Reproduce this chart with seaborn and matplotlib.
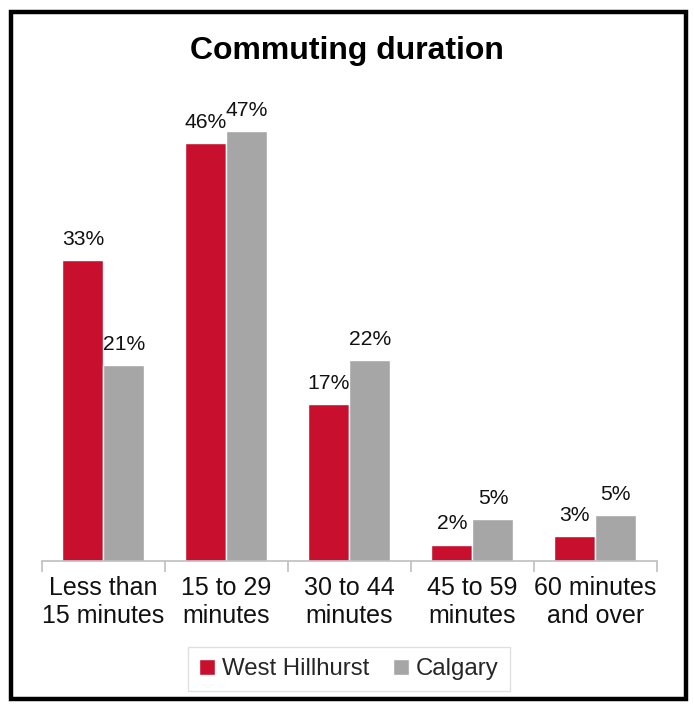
import matplotlib
matplotlib.use("Agg")
import matplotlib.pyplot as plt
import seaborn as sns
import pandas as pd
from matplotlib.patches import Rectangle

categories = ["Less than\n15 minutes", "15 to 29\nminutes", "30 to 44\nminutes",
              "45 to 59\nminutes", "60 minutes\nand over"]
west_hillhurst = [32.9, 45.7, 17.2, 1.8, 2.7]
calgary = [21.4, 47.1, 22.0, 4.6, 5.0]
series_names = ["West Hillhurst", "Calgary"]
colors = ["#C8102E", "#A6A6A6"]

df = pd.DataFrame({
    "category": categories * 2,
    "value": west_hillhurst + calgary,
    "series": [series_names[0]] * len(categories) + [series_names[1]] * len(categories),
})

sns.set_theme(style="white")
plt.rcParams["font.family"] = ["Liberation Sans", "DejaVu Sans"]

fig = plt.figure(figsize=(6.94, 7.05), dpi=100)
ax = fig.add_axes([0.0605, 0.2043, 0.886, 0.648])

sns.barplot(data=df, x="category", y="value", hue="series", palette=colors,
            width=0.667, gap=0, saturation=1, ax=ax, errorbar=None)

for container in ax.containers:
    ax.bar_label(container, labels=[f"{v:.0f}%" for v in container.datavalues],
                 padding=8, fontsize=15.2, color="#111111")

ax.set_ylim(0, 50)
ax.set_xlim(-0.5, len(categories) - 0.5)
ax.set_yticks([])
ax.set_xlabel("")
ax.set_ylabel("")
for side in ["top", "right", "left"]:
    ax.spines[side].set_visible(False)
ax.spines["bottom"].set_color("#BFBFBF")
ax.spines["bottom"].set_linewidth(1.2)

# category separators as tick marks
ax.set_xticks([i - 0.5 for i in range(len(categories) + 1)], minor=True)
ax.tick_params(axis="x", which="minor", length=8, width=1.2, color="#BFBFBF", bottom=True)
ax.tick_params(axis="x", which="major", length=0, labelsize=18, pad=11, labelcolor="#111111")

ax.legend_.remove()
handles, labels = ax.get_legend_handles_labels()
fig.legend(handles, labels, loc="center", bbox_to_anchor=(0.503, 0.051), ncol=2,
           fontsize=17.3, frameon=True, fancybox=False, edgecolor="#D9D9D9",
           handlelength=0.65, handleheight=0.65, handletextpad=0.3, columnspacing=1.0,
           borderpad=0.45)

fig.text(0.5, 0.927, "Commuting duration", ha="center", va="center",
         fontsize=23, fontweight="bold", color="black")

fig.patches.append(Rectangle((0.016, 0.008), 0.972, 0.975, transform=fig.transFigure,
                             fill=False, edgecolor="black", linewidth=3.2))

fig.savefig("out.png", dpi=100)
